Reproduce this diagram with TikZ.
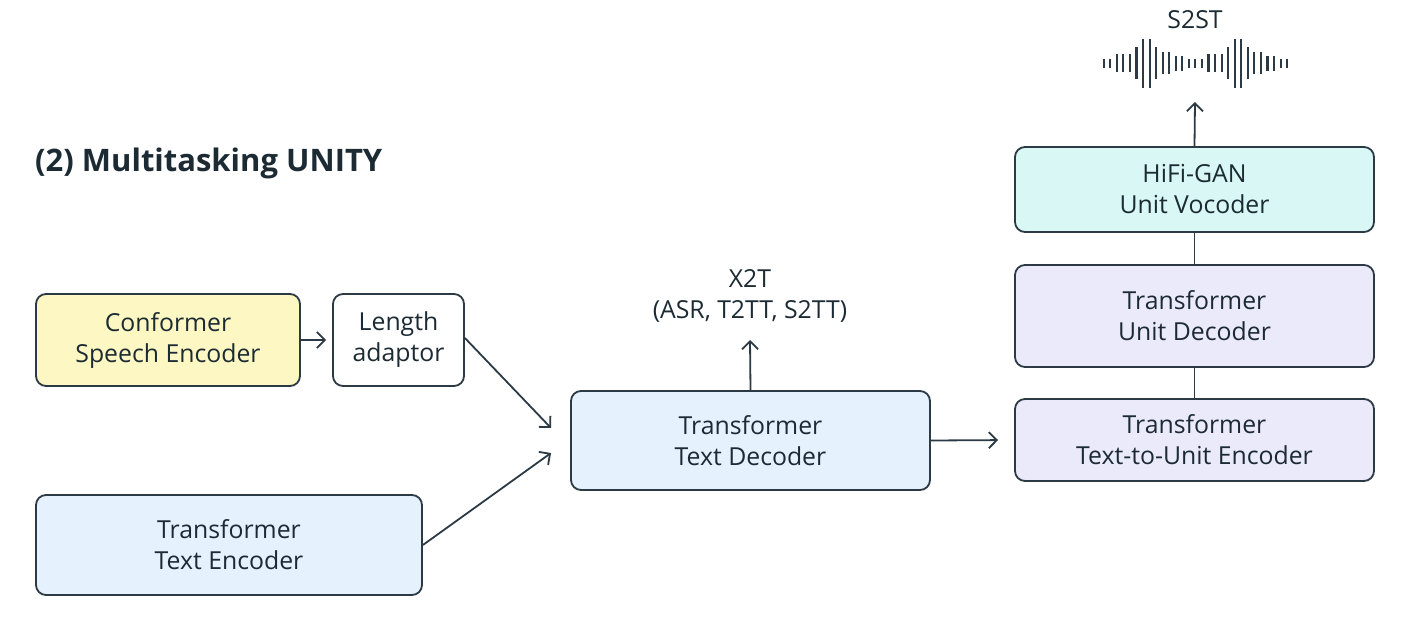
\documentclass[tikz,border=0pt]{standalone}
\usepackage{fontspec}
\setmainfont{Open Sans}
\usetikzlibrary{arrows.meta}
\definecolor{ink}{HTML}{1C2B33}
\definecolor{edge}{HTML}{2B3A44}
\definecolor{cyel}{HTML}{FDF7C3}
\definecolor{cblue}{HTML}{E6F1FE}
\definecolor{clav}{HTML}{EBEAFA}
\definecolor{ccyan}{HTML}{D9F7F5}
\tikzset{
  blk/.style={draw=edge, line width=1.8pt, rounded corners=10pt, align=center,
    text=ink, inner sep=0pt, font=\fontsize{24.8}{31}\selectfont},
  lbl/.style={text=ink, align=center, inner sep=0pt, font=\fontsize{24.8}{31}\selectfont},
  conn/.style={draw=edge, line width=1.8pt},
  arr/.style={conn, -{Straight Barb[length=8pt,width=16pt,line width=1.8pt]}},
  wave/.style={draw=edge, line width=2.1pt}
}
\begin{document}
\begin{tikzpicture}[x=1pt,y=-1pt]
\useasboundingbox (0,0) rectangle (1422,632);
\node[anchor=west, text=ink, inner sep=0pt, font=\fontsize{31}{34}\selectfont\bfseries] (title) at (35,163) {(2) Multitasking UNITY};

\node[blk, fill=cyel, minimum width=264pt, minimum height=92pt] (conf) at (168,340) {Conformer\\Speech Encoder};
\node[blk, fill=white, minimum width=131pt, minimum height=92pt] (len) at (398.5,340) {Length\\adaptor};
\node[blk, fill=cblue, minimum width=386pt, minimum height=100pt] (tenc) at (229,545) {Transformer\\Text Encoder};
\node[blk, fill=cblue, minimum width=359pt, minimum height=99pt] (dec) at (750.5,440.5) {Transformer\\Text Decoder};
\node[blk, fill=clav, minimum width=359pt, minimum height=82pt] (t2u) at (1194.5,440) {Transformer\\Text-to-Unit Encoder};
\node[blk, fill=clav, minimum width=359pt, minimum height=102pt] (udec) at (1194.5,316) {Transformer\\Unit Decoder};
\node[blk, fill=ccyan, minimum width=359pt, minimum height=85pt] (voc) at (1194.5,189.5) {HiFi-GAN\\Unit Vocoder};

\node[lbl] (x2t) at (750,296) {X2T\\(ASR, T2TT, S2TT)};
\node[lbl] (s2st) at (1195,20) {S2ST};

\coordinate (m1) at (551,428);
\coordinate (m2) at (551,453);
\coordinate (x2tin) at (750,340);
\coordinate (wavein) at (1195,102);

\draw[arr, shorten >=6pt] (conf.east) -- (len.west);
\draw[arr] (len.east) ++(0,-2) -- (m1);
\draw[arr] (tenc.east) -- (m2);
\draw[arr] (dec.north) -- (x2tin);
\draw[arr, shorten >=16pt] (dec.east) -- (t2u.west);
\draw[conn] (t2u.north) -- (udec.south);
\draw[conn] (udec.north) -- (voc.south);
\draw[arr] (voc.north) -- (wavein);

\foreach \i/\h in {0/4.5,1/4.5,2/9,3/9,4/9,5/16,6/24.5,7/24.5,8/16,9/11,10/11,11/7.5,12/7.5,13/4.5,
  14/4.5,15/4.5,16/9,17/9,18/9,19/16,20/24.5,21/24.5,22/16,23/11,24/11,25/7.5,26/7.5,27/4.5,28/4.5}{
  \draw[wave] (1103.7+\i*6.55, 63.4-\h) -- (1103.7+\i*6.55, 63.4+\h);
}
\end{tikzpicture}
\end{document}
